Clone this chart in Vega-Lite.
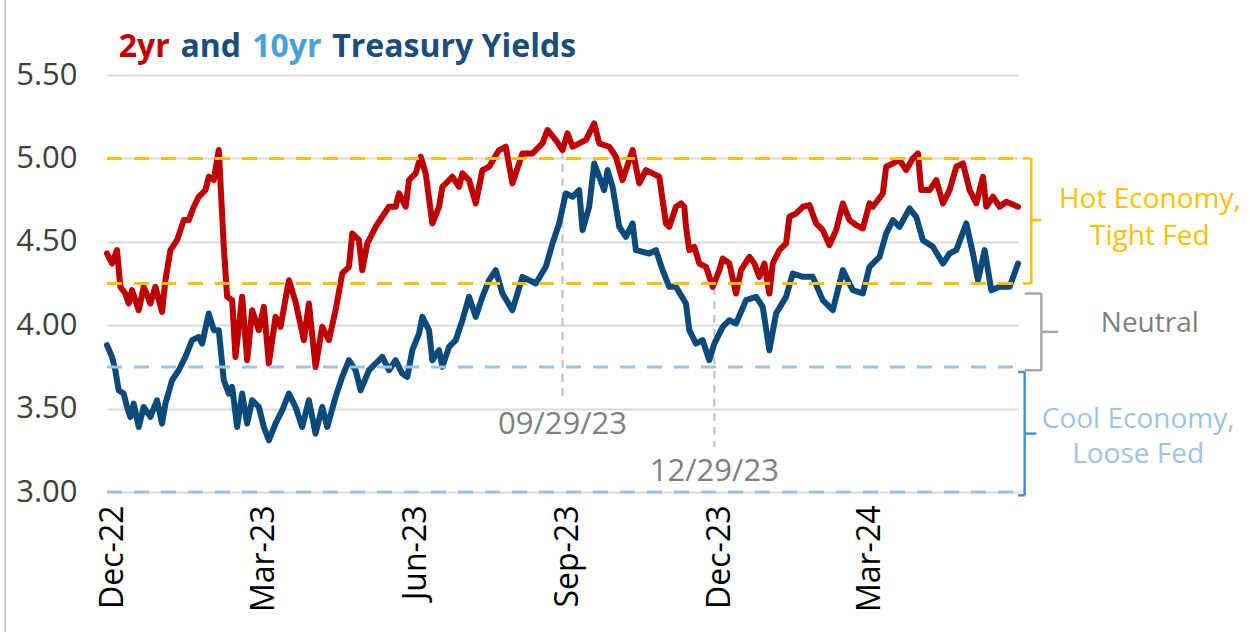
{
  "$schema": "https://vega.github.io/schema/vega-lite/v6.json",
  "width": 911,
  "height": 417,
  "autosize": "none",
  "padding": {"left": 107, "top": 75, "right": 232, "bottom": 140},
  "background": "white",
  "config": {"view": {"stroke": null}, "font": "Open Sans"},
  "encoding": {
    "x": {
      "field": "d", "type": "temporal", "title": null,
      "scale": {"domain": [{"year": 2022, "month": 12, "date": 30}, {"year": 2024, "month": 6, "date": 28}], "nice": false},
      "axis": {
        "values": [{"year": 2022, "month": 12, "date": 30}, {"year": 2023, "month": 3, "date": 31}, {"year": 2023, "month": 6, "date": 30}, {"year": 2023, "month": 9, "date": 29}, {"year": 2023, "month": 12, "date": 29}, {"year": 2024, "month": 3, "date": 28}],
        "format": "%b-%y", "labelAngle": 270, "labelAlign": "right", "labelBaseline": "middle",
        "labelFontSize": 32, "labelFont": "Open Sans", "labelColor": "#000000", "labelPadding": 13, "labelOffset": 5,
        "ticks": false, "domain": false, "grid": false, "labelOverlap": false, "labelFlush": false, "labelBound": false
      }
    },
    "y": {
      "field": "v", "type": "quantitative", "title": null,
      "scale": {"domain": [3, 5.5], "nice": false, "zero": false},
      "axis": {
        "values": [3, 3.5, 4, 4.5, 5, 5.5], "format": ".2f", "labelFontSize": 31, "labelFont": "Open Sans",
        "labelColor": "#404040", "labelPadding": 30, "ticks": false, "domain": false, "grid": true,
        "gridColor": "#d9d9d9", "gridWidth": 2, "labelFlush": false, "labelOverlap": false
      }
    }
  },
  "layer": [
    {
      "data": {"values": [{"d": "2022-10-30", "v": 5.95, "v2": 2.16}], "format": {"parse": {"d": "date:'%Y-%m-%d'"}}},
      "mark": {"type": "rule", "color": "#c8c8c8", "strokeWidth": 2},
      "encoding": {"y2": {"field": "v2"}}
    },
    {
      "data": {"values": [
        {"d": "2023-09-29", "v": 5.05, "v2": 3.57},
        {"d": "2023-12-29", "v": 4.23, "v2": 3.27}
      ], "format": {"parse": {"d": "date:'%Y-%m-%d'"}}},
      "mark": {"type": "rule", "color": "#bfbfbf", "strokeWidth": 2, "strokeDash": [8, 6]},
      "encoding": {"y2": {"field": "v2"}}
    },
    {
      "data": {"values": [
        {"d": "2023-09-29", "v": 3.40, "t": "09/29/23"},
        {"d": "2023-12-29", "v": 3.12, "t": "12/29/23"}
      ], "format": {"parse": {"d": "date:'%Y-%m-%d'"}}},
      "mark": {"type": "text", "color": "#808080", "fontSize": 31, "font": "Open Sans", "align": "center", "baseline": "middle"},
      "encoding": {"text": {"field": "t"}}
    },
    {
      "data": {"values": [
        {"d": "2022-12-30","s":"2yr","v":4.43},{"d": "2023-01-02","s":"2yr","v":4.37},{"d": "2023-01-05","s":"2yr","v":4.45},{"d": "2023-01-07","s":"2yr","v":4.23},{"d": "2023-01-10","s":"2yr","v":4.19},{"d": "2023-01-12","s":"2yr","v":4.13},{"d": "2023-01-14","s":"2yr","v":4.21},{"d": "2023-01-18","s":"2yr","v":4.09},{"d": "2023-01-21","s":"2yr","v":4.23},{"d": "2023-01-25","s":"2yr","v":4.13},{"d": "2023-01-28","s":"2yr","v":4.23},{"d": "2023-02-01","s":"2yr","v":4.08},{"d": "2023-02-03","s":"2yr","v":4.27},{"d": "2023-02-06","s":"2yr","v":4.45},{"d": "2023-02-10","s":"2yr","v":4.51},{"d": "2023-02-14","s":"2yr","v":4.63},{"d": "2023-02-17","s":"2yr","v":4.63},{"d": "2023-02-20","s":"2yr","v":4.71},{"d": "2023-02-23","s":"2yr","v":4.77},{"d": "2023-02-27","s":"2yr","v":4.81},{"d": "2023-03-01","s":"2yr","v":4.89},{"d": "2023-03-04","s":"2yr","v":4.87},{"d": "2023-03-07","s":"2yr","v":5.05},{"d": "2023-03-10","s":"2yr","v":4.47},{"d": "2023-03-12","s":"2yr","v":4.17},{"d": "2023-03-15","s":"2yr","v":4.15},{"d": "2023-03-17","s":"2yr","v":3.81},{"d": "2023-03-21","s":"2yr","v":4.17},{"d": "2023-03-24","s":"2yr","v":3.79},{"d": "2023-03-27","s":"2yr","v":4.09},{"d": "2023-03-31","s":"2yr","v":3.97},{"d": "2023-04-03","s":"2yr","v":4.11},{"d": "2023-04-06","s":"2yr","v":3.77},{"d": "2023-04-10","s":"2yr","v":4.05},{"d": "2023-04-13","s":"2yr","v":3.99},{"d": "2023-04-18","s":"2yr","v":4.27},{"d": "2023-04-22","s":"2yr","v":4.14},{"d": "2023-04-27","s":"2yr","v":3.91},{"d": "2023-04-30","s":"2yr","v":4.13},{"d": "2023-05-04","s":"2yr","v":3.75},{"d": "2023-05-08","s":"2yr","v":3.99},{"d": "2023-05-12","s":"2yr","v":3.91},{"d": "2023-05-16","s":"2yr","v":4.09},{"d": "2023-05-20","s":"2yr","v":4.31},{"d": "2023-05-24","s":"2yr","v":4.35},{"d": "2023-05-26","s":"2yr","v":4.55},{"d": "2023-05-30","s":"2yr","v":4.51},{"d": "2023-06-01","s":"2yr","v":4.33},{"d": "2023-06-04","s":"2yr","v":4.49},{"d": "2023-06-09","s":"2yr","v":4.59},{"d": "2023-06-13","s":"2yr","v":4.65},{"d": "2023-06-17","s":"2yr","v":4.71},{"d": "2023-06-21","s":"2yr","v":4.71},{"d": "2023-06-23","s":"2yr","v":4.79},{"d": "2023-06-27","s":"2yr","v":4.71},{"d": "2023-06-29","s":"2yr","v":4.87},{"d": "2023-07-03","s":"2yr","v":4.91},{"d": "2023-07-06","s":"2yr","v":5.01},{"d": "2023-07-09","s":"2yr","v":4.91},{"d": "2023-07-13","s":"2yr","v":4.61},{"d": "2023-07-17","s":"2yr","v":4.71},{"d": "2023-07-19","s":"2yr","v":4.83},{"d": "2023-07-25","s":"2yr","v":4.89},{"d": "2023-07-29","s":"2yr","v":4.83},{"d": "2023-07-31","s":"2yr","v":4.91},{"d": "2023-08-04","s":"2yr","v":4.87},{"d": "2023-08-08","s":"2yr","v":4.73},{"d": "2023-08-12","s":"2yr","v":4.93},{"d": "2023-08-16","s":"2yr","v":4.95},{"d": "2023-08-22","s":"2yr","v":5.05},{"d": "2023-08-26","s":"2yr","v":5.07},{"d": "2023-08-30","s":"2yr","v":4.85},{"d": "2023-09-05","s":"2yr","v":5.03},{"d": "2023-09-11","s":"2yr","v":5.03},{"d": "2023-09-17","s":"2yr","v":5.09},{"d": "2023-09-20","s":"2yr","v":5.17},{"d": "2023-09-25","s":"2yr","v":5.11},{"d": "2023-09-29","s":"2yr","v":5.05},{"d": "2023-10-02","s":"2yr","v":5.15},{"d": "2023-10-05","s":"2yr","v":5.07},{"d": "2023-10-09","s":"2yr","v":5.09},{"d": "2023-10-13","s":"2yr","v":5.11},{"d": "2023-10-18","s":"2yr","v":5.21},{"d": "2023-10-21","s":"2yr","v":5.09},{"d": "2023-10-27","s":"2yr","v":5.07},{"d": "2023-10-31","s":"2yr","v":5.01},{"d": "2023-11-04","s":"2yr","v":4.87},{"d": "2023-11-10","s":"2yr","v":5.05},{"d": "2023-11-14","s":"2yr","v":4.85},{"d": "2023-11-18","s":"2yr","v":4.93},{"d": "2023-11-22","s":"2yr","v":4.91},{"d": "2023-11-26","s":"2yr","v":4.89},{"d": "2023-11-30","s":"2yr","v":4.61},{"d": "2023-12-02","s":"2yr","v":4.59},{"d": "2023-12-06","s":"2yr","v":4.71},{"d": "2023-12-09","s":"2yr","v":4.73},{"d": "2023-12-11","s":"2yr","v":4.71},{"d": "2023-12-12","s":"2yr","v":4.59},{"d": "2023-12-14","s":"2yr","v":4.45},{"d": "2023-12-17","s":"2yr","v":4.47},{"d": "2023-12-20","s":"2yr","v":4.37},{"d": "2023-12-24","s":"2yr","v":4.35},{"d": "2023-12-28","s":"2yr","v":4.23},{"d": "2024-01-01","s":"2yr","v":4.33},{"d": "2024-01-03","s":"2yr","v":4.40},{"d": "2024-01-07","s":"2yr","v":4.37},{"d": "2024-01-11","s":"2yr","v":4.19},{"d": "2024-01-14","s":"2yr","v":4.33},{"d": "2024-01-19","s":"2yr","v":4.41},{"d": "2024-01-22","s":"2yr","v":4.37},{"d": "2024-01-25","s":"2yr","v":4.29},{"d": "2024-01-28","s":"2yr","v":4.37},{"d": "2024-01-31","s":"2yr","v":4.19},{"d": "2024-02-02","s":"2yr","v":4.37},{"d": "2024-02-06","s":"2yr","v":4.45},{"d": "2024-02-10","s":"2yr","v":4.49},{"d": "2024-02-12","s":"2yr","v":4.65},{"d": "2024-02-16","s":"2yr","v":4.67},{"d": "2024-02-20","s":"2yr","v":4.71},{"d": "2024-02-24","s":"2yr","v":4.72},{"d": "2024-02-28","s":"2yr","v":4.61},{"d": "2024-03-03","s":"2yr","v":4.57},{"d": "2024-03-07","s":"2yr","v":4.48},{"d": "2024-03-11","s":"2yr","v":4.57},{"d": "2024-03-15","s":"2yr","v":4.73},{"d": "2024-03-19","s":"2yr","v":4.63},{"d": "2024-03-23","s":"2yr","v":4.60},{"d": "2024-03-27","s":"2yr","v":4.58},{"d": "2024-03-31","s":"2yr","v":4.73},{"d": "2024-04-02","s":"2yr","v":4.71},{"d": "2024-04-08","s":"2yr","v":4.79},{"d": "2024-04-10","s":"2yr","v":4.95},{"d": "2024-04-14","s":"2yr","v":4.97},{"d": "2024-04-18","s":"2yr","v":4.99},{"d": "2024-04-22","s":"2yr","v":4.93},{"d": "2024-04-26","s":"2yr","v":5.00},{"d": "2024-04-29","s":"2yr","v":5.03},{"d": "2024-05-01","s":"2yr","v":4.81},{"d": "2024-05-06","s":"2yr","v":4.81},{"d": "2024-05-10","s":"2yr","v":4.87},{"d": "2024-05-14","s":"2yr","v":4.73},{"d": "2024-05-18","s":"2yr","v":4.81},{"d": "2024-05-22","s":"2yr","v":4.95},{"d": "2024-05-26","s":"2yr","v":4.97},{"d": "2024-05-30","s":"2yr","v":4.81},{"d": "2024-06-03","s":"2yr","v":4.73},{"d": "2024-06-07","s":"2yr","v":4.89},{"d": "2024-06-09","s":"2yr","v":4.71},{"d": "2024-06-13","s":"2yr","v":4.77},{"d": "2024-06-17","s":"2yr","v":4.71},{"d": "2024-06-21","s":"2yr","v":4.74},{"d": "2024-06-28","s":"2yr","v":4.71},
        {"d": "2022-12-30","s":"10yr","v":3.88},{"d": "2023-01-02","s":"10yr","v":3.81},{"d": "2023-01-04","s":"10yr","v":3.73},{"d": "2023-01-06","s":"10yr","v":3.61},{"d": "2023-01-09","s":"10yr","v":3.59},{"d": "2023-01-11","s":"10yr","v":3.51},{"d": "2023-01-13","s":"10yr","v":3.45},{"d": "2023-01-15","s":"10yr","v":3.53},{"d": "2023-01-18","s":"10yr","v":3.39},{"d": "2023-01-21","s":"10yr","v":3.51},{"d": "2023-01-25","s":"10yr","v":3.45},{"d": "2023-01-29","s":"10yr","v":3.55},{"d": "2023-02-01","s":"10yr","v":3.41},{"d": "2023-02-03","s":"10yr","v":3.53},{"d": "2023-02-07","s":"10yr","v":3.67},{"d": "2023-02-11","s":"10yr","v":3.73},{"d": "2023-02-15","s":"10yr","v":3.81},{"d": "2023-02-19","s":"10yr","v":3.91},{"d": "2023-02-23","s":"10yr","v":3.93},{"d": "2023-02-25","s":"10yr","v":3.89},{"d": "2023-03-01","s":"10yr","v":4.07},{"d": "2023-03-04","s":"10yr","v":3.97},{"d": "2023-03-07","s":"10yr","v":3.97},{"d": "2023-03-10","s":"10yr","v":3.67},{"d": "2023-03-13","s":"10yr","v":3.59},{"d": "2023-03-15","s":"10yr","v":3.63},{"d": "2023-03-18","s":"10yr","v":3.39},{"d": "2023-03-21","s":"10yr","v":3.59},{"d": "2023-03-24","s":"10yr","v":3.41},{"d": "2023-03-27","s":"10yr","v":3.55},{"d": "2023-03-31","s":"10yr","v":3.51},{"d": "2023-04-03","s":"10yr","v":3.39},{"d": "2023-04-06","s":"10yr","v":3.31},{"d": "2023-04-10","s":"10yr","v":3.41},{"d": "2023-04-14","s":"10yr","v":3.49},{"d": "2023-04-18","s":"10yr","v":3.59},{"d": "2023-04-22","s":"10yr","v":3.51},{"d": "2023-04-26","s":"10yr","v":3.39},{"d": "2023-04-30","s":"10yr","v":3.55},{"d": "2023-05-04","s":"10yr","v":3.35},{"d": "2023-05-08","s":"10yr","v":3.51},{"d": "2023-05-11","s":"10yr","v":3.39},{"d": "2023-05-16","s":"10yr","v":3.57},{"d": "2023-05-20","s":"10yr","v":3.69},{"d": "2023-05-24","s":"10yr","v":3.79},{"d": "2023-05-28","s":"10yr","v":3.73},{"d": "2023-05-31","s":"10yr","v":3.61},{"d": "2023-06-05","s":"10yr","v":3.73},{"d": "2023-06-09","s":"10yr","v":3.77},{"d": "2023-06-13","s":"10yr","v":3.81},{"d": "2023-06-17","s":"10yr","v":3.73},{"d": "2023-06-21","s":"10yr","v":3.79},{"d": "2023-06-25","s":"10yr","v":3.71},{"d": "2023-06-28","s":"10yr","v":3.69},{"d": "2023-07-01","s":"10yr","v":3.85},{"d": "2023-07-05","s":"10yr","v":3.95},{"d": "2023-07-07","s":"10yr","v":4.05},{"d": "2023-07-11","s":"10yr","v":3.97},{"d": "2023-07-13","s":"10yr","v":3.79},{"d": "2023-07-17","s":"10yr","v":3.85},{"d": "2023-07-19","s":"10yr","v":3.75},{"d": "2023-07-23","s":"10yr","v":3.87},{"d": "2023-07-27","s":"10yr","v":3.91},{"d": "2023-07-31","s":"10yr","v":4.03},{"d": "2023-08-04","s":"10yr","v":4.17},{"d": "2023-08-08","s":"10yr","v":4.05},{"d": "2023-08-12","s":"10yr","v":4.17},{"d": "2023-08-16","s":"10yr","v":4.27},{"d": "2023-08-20","s":"10yr","v":4.33},{"d": "2023-08-24","s":"10yr","v":4.19},{"d": "2023-08-30","s":"10yr","v":4.09},{"d": "2023-09-05","s":"10yr","v":4.29},{"d": "2023-09-13","s":"10yr","v":4.25},{"d": "2023-09-19","s":"10yr","v":4.35},{"d": "2023-09-23","s":"10yr","v":4.49},{"d": "2023-09-27","s":"10yr","v":4.61},{"d": "2023-10-01","s":"10yr","v":4.79},{"d": "2023-10-05","s":"10yr","v":4.77},{"d": "2023-10-09","s":"10yr","v":4.81},{"d": "2023-10-11","s":"10yr","v":4.57},{"d": "2023-10-15","s":"10yr","v":4.71},{"d": "2023-10-18","s":"10yr","v":4.97},{"d": "2023-10-21","s":"10yr","v":4.89},{"d": "2023-10-24","s":"10yr","v":4.81},{"d": "2023-10-26","s":"10yr","v":4.93},{"d": "2023-10-29","s":"10yr","v":4.83},{"d": "2023-11-02","s":"10yr","v":4.59},{"d": "2023-11-06","s":"10yr","v":4.53},{"d": "2023-11-10","s":"10yr","v":4.61},{"d": "2023-11-12","s":"10yr","v":4.45},{"d": "2023-11-20","s":"10yr","v":4.43},{"d": "2023-11-24","s":"10yr","v":4.45},{"d": "2023-11-28","s":"10yr","v":4.33},{"d": "2023-12-02","s":"10yr","v":4.23},{"d": "2023-12-06","s":"10yr","v":4.23},{"d": "2023-12-12","s":"10yr","v":4.13},{"d": "2023-12-14","s":"10yr","v":3.97},{"d": "2023-12-18","s":"10yr","v":3.89},{"d": "2023-12-22","s":"10yr","v":3.91},{"d": "2023-12-26","s":"10yr","v":3.79},{"d": "2023-12-29","s":"10yr","v":3.89},{"d": "2024-01-03","s":"10yr","v":3.99},{"d": "2024-01-07","s":"10yr","v":4.03},{"d": "2024-01-11","s":"10yr","v":4.01},{"d": "2024-01-17","s":"10yr","v":4.15},{"d": "2024-01-23","s":"10yr","v":4.17},{"d": "2024-01-27","s":"10yr","v":4.11},{"d": "2024-01-31","s":"10yr","v":3.85},{"d": "2024-02-04","s":"10yr","v":4.07},{"d": "2024-02-10","s":"10yr","v":4.17},{"d": "2024-02-14","s":"10yr","v":4.31},{"d": "2024-02-20","s":"10yr","v":4.29},{"d": "2024-02-26","s":"10yr","v":4.29},{"d": "2024-03-03","s":"10yr","v":4.15},{"d": "2024-03-09","s":"10yr","v":4.09},{"d": "2024-03-15","s":"10yr","v":4.33},{"d": "2024-03-21","s":"10yr","v":4.21},{"d": "2024-03-27","s":"10yr","v":4.19},{"d": "2024-03-31","s":"10yr","v":4.35},{"d": "2024-04-06","s":"10yr","v":4.41},{"d": "2024-04-10","s":"10yr","v":4.55},{"d": "2024-04-14","s":"10yr","v":4.63},{"d": "2024-04-18","s":"10yr","v":4.59},{"d": "2024-04-24","s":"10yr","v":4.70},{"d": "2024-04-28","s":"10yr","v":4.65},{"d": "2024-05-02","s":"10yr","v":4.51},{"d": "2024-05-08","s":"10yr","v":4.47},{"d": "2024-05-14","s":"10yr","v":4.37},{"d": "2024-05-18","s":"10yr","v":4.43},{"d": "2024-05-22","s":"10yr","v":4.45},{"d": "2024-05-28","s":"10yr","v":4.61},{"d": "2024-06-01","s":"10yr","v":4.43},{"d": "2024-06-04","s":"10yr","v":4.27},{"d": "2024-06-08","s":"10yr","v":4.45},{"d": "2024-06-12","s":"10yr","v":4.21},{"d": "2024-06-17","s":"10yr","v":4.23},{"d": "2024-06-23","s":"10yr","v":4.23},{"d": "2024-06-28","s":"10yr","v":4.37}
      ], "format": {"parse": {"d": "date:'%Y-%m-%d'"}}},
      "mark": {"type": "line", "strokeWidth": 6, "strokeJoin": "round", "strokeCap": "round"},
      "encoding": {
        "color": {"field": "s", "type": "nominal", "scale": {"domain": ["10yr", "2yr"], "range": ["#0B4A7A", "#C00000"]}, "legend": null}
      }
    },
    {
      "data": {"values": [
        {"d": "2022-12-30", "d2": "2024-06-28", "v": 5.0},
        {"d": "2022-12-30", "d2": "2024-06-28", "v": 4.25}
      ], "format": {"parse": {"d": "date:'%Y-%m-%d'", "d2": "date:'%Y-%m-%d'"}}},
      "mark": {"type": "rule", "color": "#FFC000", "strokeWidth": 3, "strokeDash": [15, 12]},
      "encoding": {"x2": {"field": "d2"}}
    },
    {
      "data": {"values": [
        {"d": "2022-12-30", "d2": "2024-06-28", "v": 3.75},
        {"d": "2022-12-30", "d2": "2024-06-28", "v": 3.0}
      ], "format": {"parse": {"d": "date:'%Y-%m-%d'", "d2": "date:'%Y-%m-%d'"}}},
      "mark": {"type": "rule", "color": "#9DC3E6", "strokeWidth": 3, "strokeDash": [15, 12]},
      "encoding": {"x2": {"field": "d2"}}
    },
    {
      "data": {"values": [
        {"d": "2024-07-01", "d2": "2024-07-06", "v": 5.0, "v2": 5.0},
        {"d": "2024-07-06", "d2": "2024-07-06", "v": 5.0, "v2": 4.25},
        {"d": "2024-07-01", "d2": "2024-07-06", "v": 4.25, "v2": 4.25},
        {"d": "2024-07-06", "d2": "2024-07-12", "v": 4.63, "v2": 4.63}
      ], "format": {"parse": {"d": "date:'%Y-%m-%d'", "d2": "date:'%Y-%m-%d'"}}},
      "mark": {"type": "rule", "color": "#FFC000", "strokeWidth": 2.5},
      "encoding": {"x2": {"field": "d2"}, "y2": {"field": "v2"}}
    },
    {
      "data": {"values": [
        {"d": "2024-07-02", "d2": "2024-07-12", "v": 4.19, "v2": 4.19},
        {"d": "2024-07-12", "d2": "2024-07-12", "v": 4.19, "v2": 3.73},
        {"d": "2024-07-02", "d2": "2024-07-12", "v": 3.73, "v2": 3.73},
        {"d": "2024-07-12", "d2": "2024-07-22", "v": 3.96, "v2": 3.96}
      ], "format": {"parse": {"d": "date:'%Y-%m-%d'", "d2": "date:'%Y-%m-%d'"}}},
      "mark": {"type": "rule", "color": "#A6A6A6", "strokeWidth": 2.5},
      "encoding": {"x2": {"field": "d2"}, "y2": {"field": "v2"}}
    },
    {
      "data": {"values": [
        {"d": "2024-06-28", "d2": "2024-07-02", "v": 3.72, "v2": 3.72},
        {"d": "2024-07-02", "d2": "2024-07-02", "v": 3.72, "v2": 2.98},
        {"d": "2024-06-28", "d2": "2024-07-02", "v": 2.98, "v2": 2.98},
        {"d": "2024-07-02", "d2": "2024-07-09", "v": 3.35, "v2": 3.35}
      ], "format": {"parse": {"d": "date:'%Y-%m-%d'", "d2": "date:'%Y-%m-%d'"}}},
      "mark": {"type": "rule", "color": "#4A90C8", "strokeWidth": 2.5},
      "encoding": {"x2": {"field": "d2"}, "y2": {"field": "v2"}}
    },
    {
      "data": {"values": [
        {"d": "2024-09-15", "v": 4.75, "t": "Hot Economy,"},
        {"d": "2024-09-15", "v": 4.53, "t": "Tight Fed"}
      ], "format": {"parse": {"d": "date:'%Y-%m-%d'"}}},
      "mark": {"type": "text", "color": "#FFC000", "fontSize": 28, "font": "Open Sans", "align": "center", "baseline": "middle"},
      "encoding": {"text": {"field": "t"}}
    },
    {
      "data": {"values": [
        {"d": "2024-09-15", "v": 4.01, "t": "Neutral"}
      ], "format": {"parse": {"d": "date:'%Y-%m-%d'"}}},
      "mark": {"type": "text", "color": "#7F7F7F", "fontSize": 28, "font": "Open Sans", "align": "center", "baseline": "middle"},
      "encoding": {"text": {"field": "t"}}
    },
    {
      "data": {"values": [
        {"d": "2024-09-08", "v": 3.43, "t": "Cool Economy,"},
        {"d": "2024-09-08", "v": 3.22, "t": "Loose Fed"}
      ], "format": {"parse": {"d": "date:'%Y-%m-%d'"}}},
      "mark": {"type": "text", "color": "#9DC3E6", "fontSize": 28, "font": "Open Sans", "align": "center", "baseline": "middle"},
      "encoding": {"text": {"field": "t"}}
    },
    {
      "data": {"values": [{"d": "2023-01-06", "v": 5.608, "t": "2yr"}], "format": {"parse": {"d": "date:'%Y-%m-%d'"}}},
      "mark": {"type": "text", "color": "#C00000", "fontSize": 32, "fontWeight": "bold", "font": "Open Sans", "align": "left", "baseline": "alphabetic"},
      "encoding": {"text": {"field": "t"}}
    },
    {
      "data": {"values": [
        {"d": "2023-02-12", "v": 5.608, "t": "and"},
        {"d": "2023-05-14", "v": 5.608, "t": "Treasury Yields"}
      ], "format": {"parse": {"d": "date:'%Y-%m-%d'"}}},
      "mark": {"type": "text", "color": "#1A4E7C", "fontSize": 32, "fontWeight": "bold", "font": "Open Sans", "align": "left", "baseline": "alphabetic"},
      "encoding": {"text": {"field": "t"}}
    },
    {
      "data": {"values": [{"d": "2023-03-27", "v": 5.608, "t": "10yr"}], "format": {"parse": {"d": "date:'%Y-%m-%d'"}}},
      "mark": {"type": "text", "color": "#4BA0D6", "fontSize": 32, "fontWeight": "bold", "font": "Open Sans", "align": "left", "baseline": "alphabetic"},
      "encoding": {"text": {"field": "t"}}
    }
  ]
}
